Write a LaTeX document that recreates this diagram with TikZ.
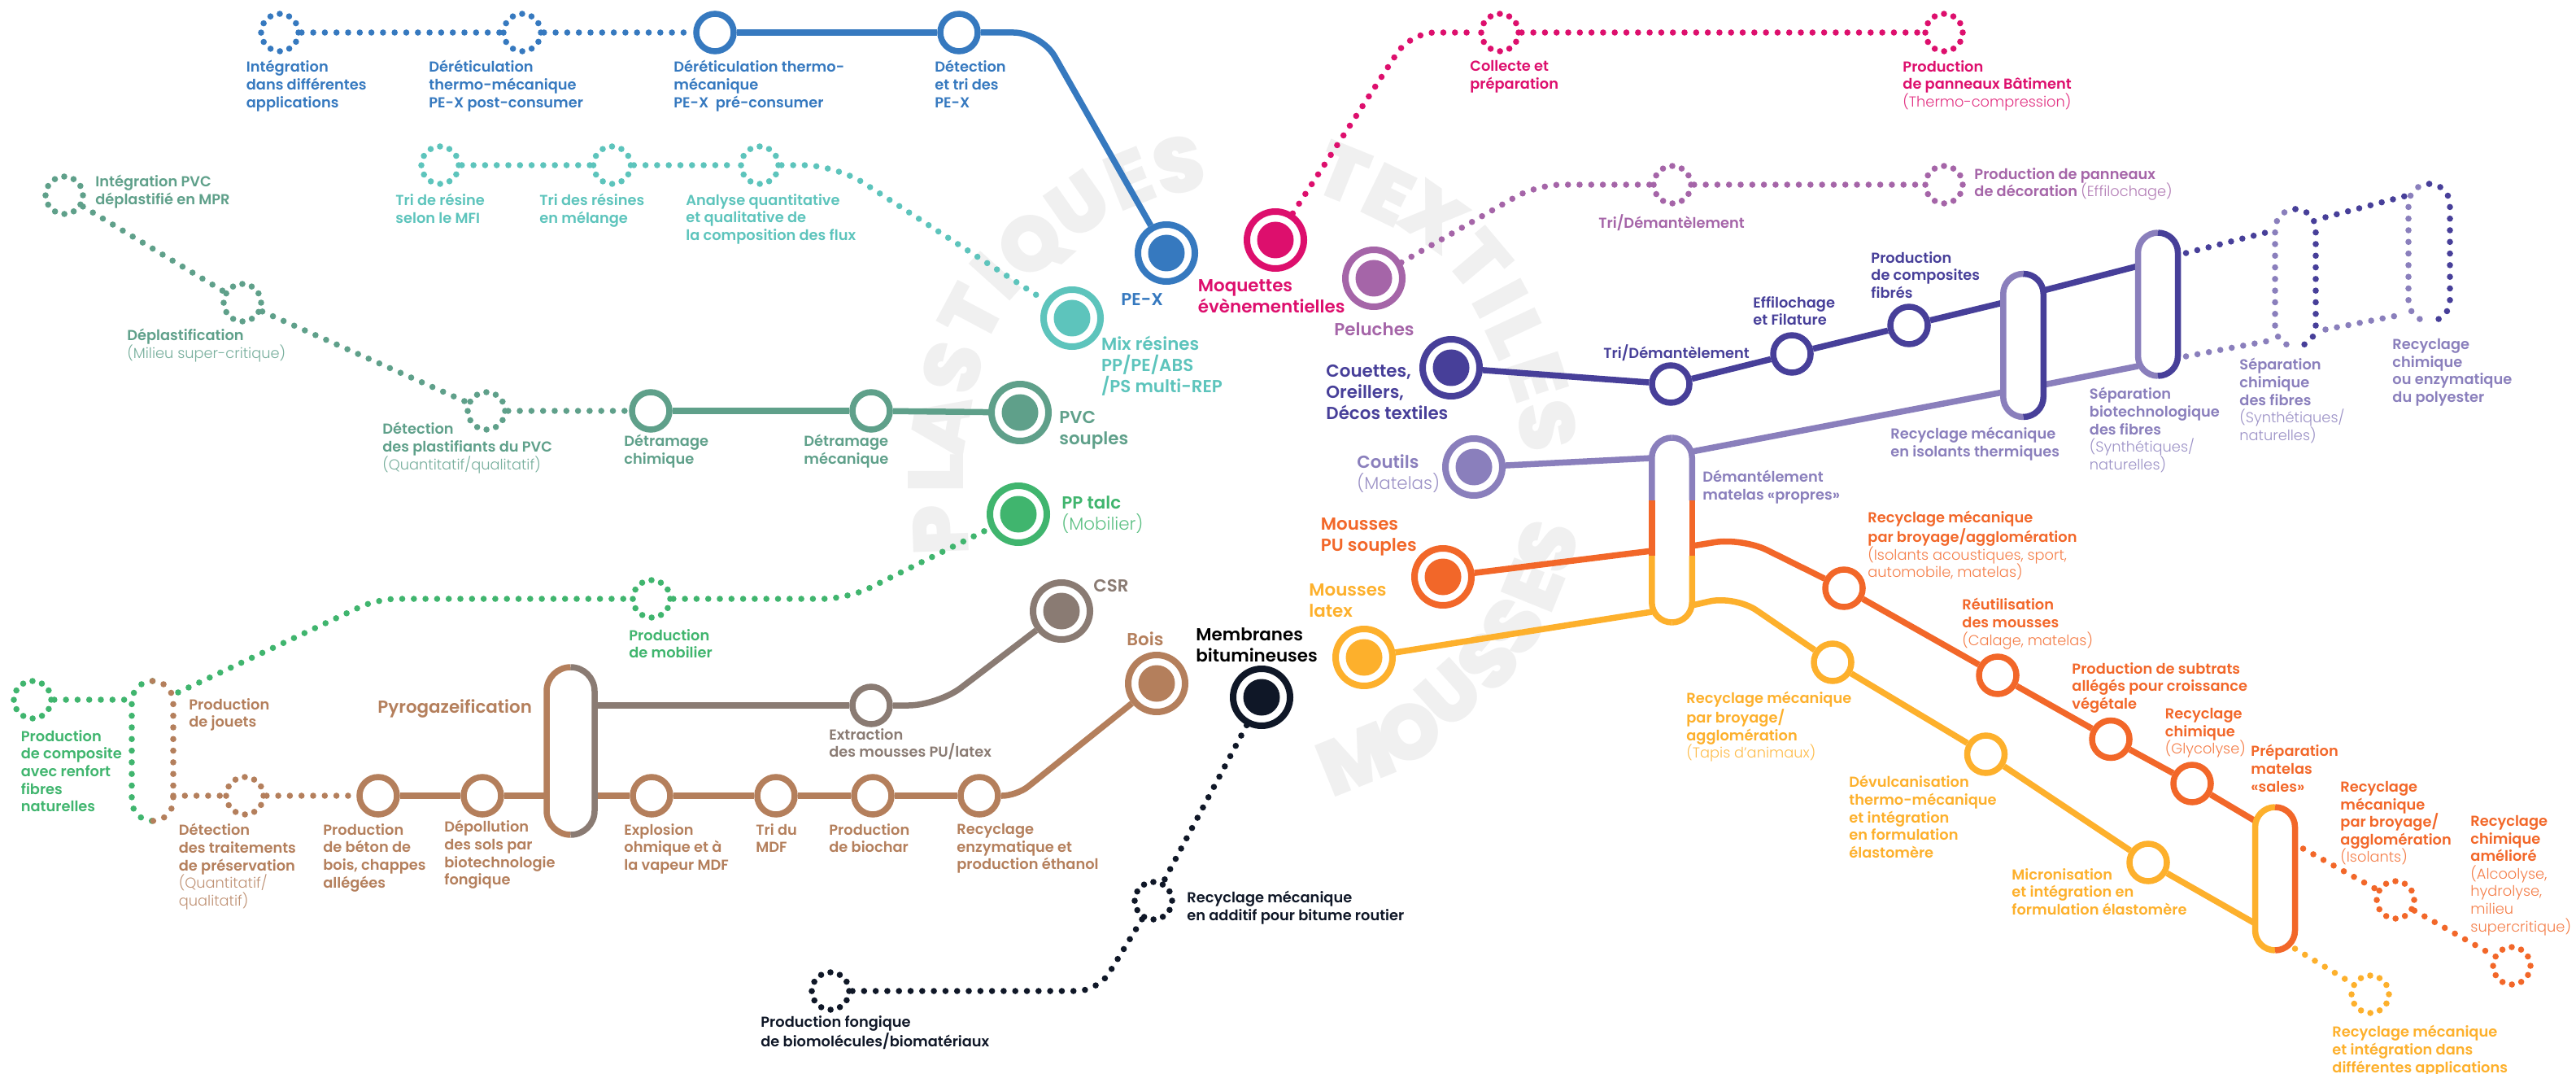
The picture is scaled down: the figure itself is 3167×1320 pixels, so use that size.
\documentclass[tikz,border=0pt]{standalone}
\usepackage{fontspec}
\setmainfont{Poppins}[BoldFont={Poppins SemiBold}]
\newfontfamily\lightface{Poppins Light}
\newfontfamily\markface{Poppins Black}
\definecolor{cPex}{HTML}{3679BF}
\definecolor{cMix}{HTML}{5DC4BC}
\definecolor{cPvc}{HTML}{5FA08A}
\definecolor{cTalc}{HTML}{40B56E}
\definecolor{cWood}{HTML}{B47F5C}
\definecolor{cCsr}{HTML}{8A7B73}
\definecolor{cBit}{HTML}{0F1727}
\definecolor{cCarpet}{HTML}{DD0F6D}
\definecolor{cPlush}{HTML}{A565A8}
\definecolor{cDuvet}{HTML}{473F99}
\definecolor{cTick}{HTML}{8A7FBC}
\definecolor{cFoam}{HTML}{F26729}
\definecolor{cLatex}{HTML}{FDB02C}
\newcommand{\thin}[1]{{\lightface\mdseries\color{.!85!white}#1}}
\tikzset{
    station/.style={circle, draw=#1, fill=white, line width=3.75pt, minimum size=23pt, inner sep=0pt},
    dotstation/.style={circle, draw=#1, line width=3.8pt, line cap=round, dash pattern=on 0pt off 6.02pt, minimum size=23pt, inner sep=0pt},
    terminus/.style={circle, draw=#1, fill=white, line width=4pt, minimum size=35pt, inner sep=0pt,
        path picture={\fill[#1] (path picture bounding box.center) circle (11.25pt);}},
    pillbox/.style={rectangle, fill=white, inner sep=0pt, outer sep=0pt},
    track/.style={draw=#1, line width=3.75pt},
    dottrack/.style={draw=#1, line width=3.8pt, line cap=round, dash pattern=on 0pt off 7.15pt},
    lbl/.style={text=#1, anchor=north west, inner sep=0pt, align=left, yshift=-1.5pt, font=\fontsize{8.9}{10.8}\selectfont\bfseries},
    biglbl/.style={text=#1, anchor=north west, inner sep=0pt, align=left, yshift=-3pt, font=\fontsize{10.7}{13}\selectfont\bfseries},
    wmark/.style={text=black!6, inner sep=0pt, font=\fontsize{48}{48}\markface}
}
\begin{document}
\begin{tikzpicture}[x=0.5pt, y=-0.5pt]
    \useasboundingbox (0,0) rectangle (3167,1320);

    % Watermark letters along the three arcs
    \foreach \ch/\wx/\wy/\wa [count=\i] in {P/1156/652/92, L/1150/581/90, A/1156/522/80, S/1171/452/75, T/1194/385/62, I/1224/339/48, Q/1270/304/42, U/1326/252/35, E/1388/220/22, S/1449/203/14,
        T/1651/213/-22, E/1707/240/-26, X/1763/267/-35, T/1819/320/-50, I/1845/367/-62, L/1865/410/-65, E/1890/463/-72, S/1902/523/-80,
        M/1667/933/22, O/1733/900/30, U/1783/853/42, S/1830/813/50, S/1860/770/58, E/1885/720/68, S/1902/672/75}
        \node[wmark, rotate=\wa] (mark\i) at (\wx,\wy) {\ch};

    % PE-X line
    \node[dotstation=cPex] (pexA) at (344,40) {};
    \node[dotstation=cPex] (pexB) at (642,40) {};
    \node[station=cPex] (pexC) at (879,40) {};
    \node[station=cPex] (pexD) at (1179,40) {};
    \node[terminus=cPex] (pexT) at (1434,311) {};
    \coordinate (pexBend) at (1280,40);
    \draw[dottrack=cPex] (pexA) -- (pexB);
    \draw[dottrack=cPex] (pexB) -- (pexC);
    \draw[track=cPex] (pexC) -- (pexD);
    \draw[track=cPex, rounded corners=17pt] (pexD) -- (pexBend) -- (pexT);
    \node[lbl=cPex] (pexAl) at (302.5,71) {Intégration\\dans différentes\\applications};
    \node[lbl=cPex] (pexBl) at (527,71) {Déréticulation\\thermo-mécanique\\PE-X post-consumer};
    \node[lbl=cPex] (pexCl) at (828,71) {Déréticulation thermo-\\mécanique\\PE-X~~pré-consumer};
    \node[lbl=cPex] (pexDl) at (1149,71) {Détection\\et tri des\\PE-X};
    \node[biglbl=cPex] (pexTl) at (1378,354) {PE-X};

    % Mix line
    \node[dotstation=cMix] (mixA) at (541,203) {};
    \node[dotstation=cMix] (mixB) at (752.5,203) {};
    \node[dotstation=cMix] (mixC) at (934,203) {};
    \node[terminus=cMix] (mixT) at (1318,391) {};
    \coordinate (mixBend) at (1028,203);
    \draw[dottrack=cMix] (mixA) -- (mixB);
    \draw[dottrack=cMix] (mixB) -- (mixC);
    \draw[dottrack=cMix, rounded corners=20pt] (mixC) -- (mixBend) -- (mixT);
    \node[lbl=cMix] (mixAl) at (486,235) {Tri de résine\\selon le MFI};
    \node[lbl=cMix] (mixBl) at (663,235) {Tri des résines\\en mélange};
    \node[lbl=cMix] (mixCl) at (843,235) {Analyse quantitative\\et qualitative de\\la composition des flux};
    \node[biglbl=cMix] (mixTl) at (1353.6,407) {Mix résines\\PP/PE/ABS\\/PS multi-REP};

    % PVC line
    \node[dotstation=cPvc] (pvcA) at (79,240) {};
    \node[dotstation=cPvc] (pvcB) at (298,372) {};
    \node[dotstation=cPvc] (pvcC) at (598,505) {};
    \node[station=cPvc] (pvcD) at (800,505) {};
    \node[station=cPvc] (pvcE) at (1071,505) {};
    \node[terminus=cPvc] (pvcT) at (1254,507) {};
    \draw[dottrack=cPvc] (pvcA) -- (pvcB);
    \draw[dottrack=cPvc] (pvcB) -- (pvcC);
    \draw[dottrack=cPvc] (pvcC) -- (pvcD);
    \draw[track=cPvc] (pvcD) -- (pvcE);
    \draw[track=cPvc] (pvcE) -- (pvcT);
    \node[lbl=cPvc] (pvcAl) at (117,212) {Intégration PVC\\déplastifié en MPR};
    \node[lbl=cPvc] (pvcBl) at (156,401) {Déplastification\\\thin{(Milieu super-critique)}};
    \node[lbl=cPvc] (pvcCl) at (470,516) {Détection\\des plastifiants du PVC\\\thin{(Quantitatif/qualitatif)}};
    \node[lbl=cPvc] (pvcDl) at (767,531) {Détramage\\chimique};
    \node[lbl=cPvc] (pvcEl) at (988,531) {Détramage\\mécanique};
    \node[biglbl=cPvc] (pvcTl) at (1302,499) {PVC\\souples};

    % Talc line and the two start points at the far left
    \node[dotstation=cTalc] (talcA) at (40,860) {};
    \node[pillbox, minimum width=25.5pt, minimum height=86pt] (jouets) at (187.5,923) {};
    \node[dotstation=cTalc] (talcB) at (801,736) {};
    \node[terminus=cTalc] (talcT) at (1252,632) {};
    \coordinate (talcBendA) at (464,736);
    \coordinate (talcBendB) at (1042,736);
    \draw[dottrack=cTalc] (talcA) -- ([yshift=31.5pt]jouets.west);
    \draw[dottrack=cTalc, rounded corners=12pt] ([xshift=3pt, yshift=36pt]jouets.east) -- (talcBendA) -- (talcB);
    \draw[dottrack=cTalc, rounded corners=15pt] (talcB) -- (talcBendB) -- (talcT);
    \node[lbl=cTalc] (talcAl) at (25.5,894) {Production\\de composite\\avec renfort\\fibres\\naturelles};
    \node[lbl=cTalc] (talcBl) at (773,770) {Production\\de mobilier};
    \node[biglbl=cTalc] (talcTl) at (1305,603) {PP talc\\\thin{(Mobilier)}};

    % Wood line
    \node[dotstation=cWood] (woodA) at (301,978) {};
    \node[station=cWood] (woodB) at (465,978) {};
    \node[station=cWood] (woodC) at (593,978) {};
    \node[pillbox, minimum width=29.5pt, minimum height=103pt] (pyro) at (701.5,923) {};
    \node[station=cWood] (woodD) at (801,978) {};
    \node[station=cWood] (woodE) at (954,978) {};
    \node[station=cWood] (woodF) at (1073,978) {};
    \node[station=cWood] (woodG) at (1204,978) {};
    \node[terminus=cWood] (woodT) at (1422,840) {};
    \coordinate (woodBend) at (1250,978);
    \draw[dottrack=cWood] ([yshift=-27.5pt]jouets.east) -- (woodA);
    \draw[dottrack=cWood] (woodA) -- (woodB);
    \draw[track=cWood] (woodB) -- (woodC);
    \draw[track=cWood] (woodC) -- ([yshift=-27.5pt]pyro.west);
    \draw[track=cWood] ([yshift=-27.5pt]pyro.east) -- (woodD);
    \draw[track=cWood] (woodD) -- (woodE);
    \draw[track=cWood] (woodE) -- (woodF);
    \draw[track=cWood] (woodF) -- (woodG);
    \draw[track=cWood, rounded corners=9pt] (woodG) -- (woodBend) -- (woodT);
    \node[lbl=cWood] (jouetsl) at (232,855) {Production\\de jouets};
    \node[lbl=cWood] (woodAl) at (219.5,1009) {Détection\\des traitements\\de préservation\\\thin{(Quantitatif/}\\\thin{qualitatif)}};
    \node[lbl=cWood] (woodBl) at (397,1009) {Production\\de béton de\\bois, chappes\\allégées};
    \node[lbl=cWood] (woodCl) at (546,1005) {Dépollution\\des sols par\\biotechnologie\\fongique};
    \node[biglbl=cWood] (pyrol) at (464,853) {Pyrogazeification};
    \node[lbl=cWood] (woodDl) at (767,1009) {Explosion\\ohmique et à\\la vapeur MDF};
    \node[lbl=cWood] (woodEl) at (929,1009) {Tri du\\MDF};
    \node[lbl=cWood] (woodFl) at (1019,1009) {Production\\de biochar};
    \node[lbl=cWood] (woodGl) at (1176,1009) {Recyclage\\enzymatique et\\production éthanol};
    \node[biglbl=cWood] (woodTl) at (1385,770) {Bois};

    % CSR line
    \node[station=cCsr] (csrA) at (1071,867) {};
    \node[terminus=cCsr] (csrT) at (1305,751) {};
    \coordinate (csrBend) at (1153,867);
    \draw[track=cCsr] ([yshift=28pt]pyro.east) -- (csrA);
    \draw[track=cCsr, rounded corners=18pt] (csrA) -- (csrBend) -- (csrT);
    \node[lbl=cCsr] (csrAl) at (1019,892) {Extraction\\des mousses PU/latex};
    \node[biglbl=cCsr] (csrTl) at (1344,706) {CSR};

    % Bitumen line
    \node[terminus=cBit] (bitT) at (1551,857) {};
    \node[dotstation=cBit] (bitA) at (1418,1107) {};
    \node[dotstation=cBit] (bitB) at (1021,1218) {};
    \coordinate (bitBend) at (1350,1218);
    \draw[dottrack=cBit] (bitT) -- (bitA);
    \draw[dottrack=cBit, rounded corners=13pt] (bitA) -- (bitBend) -- (bitB);
    \node[biglbl=black] (bitTl) at (1470,765) {Membranes\\bitumineuses};
    \node[lbl=cBit] (bitAl) at (1459,1092) {Recyclage mécanique\\en additif pour bitume routier};
    \node[lbl=cBit] (bitBl) at (935,1245) {Production fongique\\de biomolécules/biomatériaux};

    % Carpet line
    \node[terminus=cCarpet] (carpT) at (1568,295) {};
    \node[dotstation=cCarpet] (carpA) at (1844,40) {};
    \node[dotstation=cCarpet] (carpB) at (2390,40) {};
    \coordinate (carpBend) at (1734,40);
    \draw[dottrack=cCarpet, rounded corners=15pt] (carpT) -- (carpBend) -- (carpA);
    \draw[dottrack=cCarpet] (carpA) -- (carpB);
    \node[biglbl=cCarpet] (carpTl) at (1472.5,337) {Moquettes\\évènementielles};
    \node[lbl=cCarpet] (carpAl) at (1807,71) {Collecte et\\préparation};
    \node[lbl=cCarpet] (carpBl) at (2339,71) {Production\\de panneaux Bâtiment\\\thin{(Thermo-compression)}};

    % Plush line
    \node[terminus=cPlush] (plushT) at (1689,342) {};
    \node[dotstation=cPlush] (plushA) at (2056,227) {};
    \node[dotstation=cPlush] (plushB) at (2390,227) {};
    \coordinate (plushBend) at (1889.5,227);
    \draw[dottrack=cPlush, rounded corners=15pt] (plushT) -- (plushBend) -- (plushA);
    \draw[dottrack=cPlush] (plushA) -- (plushB);
    \node[biglbl=cPlush] (plushTl) at (1640,390) {Peluches};
    \node[lbl=cPlush] (plushAl) at (1965,260) {Tri/Démantèlement};
    \node[lbl=cPlush] (plushBl) at (2427,203) {Production de panneaux\\de décoration \thin{(Effilochage)}};

    % Pills shared by the textile and foam lines
    \node[pillbox, minimum width=24.75pt, minimum height=88pt] (thermal) at (2487.5,424.5) {};
    \node[pillbox, minimum width=24.5pt, minimum height=88pt] (biotech) at (2653,374) {};
    \node[pillbox, minimum width=25pt, minimum height=84.5pt] (sepchim) at (2822,341.5) {};
    \node[pillbox, minimum width=25.5pt, minimum height=84.5pt] (polyest) at (2986.5,310.5) {};
    \node[pillbox, minimum width=24.75pt, minimum height=113.5pt] (matelas) at (2055.5,651.5) {};
    \node[pillbox, minimum width=24.5pt, minimum height=88pt] (sales) at (2797,1080) {};

    % Duvet line
    \node[terminus=cDuvet] (duvT) at (1784,452) {};
    \node[station=cDuvet] (duvA) at (2054,472) {};
    \node[station=cDuvet] (duvB) at (2203,435) {};
    \node[station=cDuvet] (duvC) at (2347,400) {};
    \draw[track=cDuvet] (duvT) -- (duvA);
    \draw[track=cDuvet] (duvA) -- (duvB);
    \draw[track=cDuvet] (duvB) -- (duvC);
    \draw[track=cDuvet] (duvC) -- ([yshift=26.25pt]thermal.west);
    \draw[track=cDuvet] ([yshift=33.75pt]thermal.east) -- ([yshift=23.5pt]biotech.west);
    \draw[dottrack=cDuvet] ([xshift=5pt, yshift=31.5pt]biotech.east) -- ([xshift=-4pt, yshift=28.25pt]sepchim.west);
    \draw[dottrack=cDuvet] ([xshift=6pt, yshift=37.25pt]sepchim.east) -- ([xshift=-2pt, yshift=34.75pt]polyest.west);
    \node[biglbl=cDuvet] (duvTl) at (1630,442) {Couettes,\\Oreillers,\\Décos textiles};
    \node[lbl=cDuvet] (duvAl) at (1971,420) {Tri/Démantèlement};
    \node[lbl=cDuvet] (duvBl) at (2155,361) {Effilochage\\et Filature};
    \node[lbl=cDuvet] (duvCl) at (2300,306) {Production\\de composites\\fibrés};

    % Ticking line
    \node[terminus=cTick] (tickT) at (1812,574) {};
    \draw[track=cTick] (tickT) -- ([yshift=44.25pt]matelas.west);
    \draw[track=cTick] ([yshift=48.25pt]matelas.east) -- ([yshift=-28.75pt]thermal.west);
    \draw[track=cTick] ([yshift=-24.25pt]thermal.east) -- ([yshift=-38pt]biotech.west);
    \draw[dottrack=cTick] ([xshift=5pt, yshift=-32pt]biotech.east) -- ([xshift=-4pt, yshift=-38.75pt]sepchim.west);
    \draw[dottrack=cTick] ([xshift=6pt, yshift=-31.75pt]sepchim.east) -- ([xshift=-2pt, yshift=-37.75pt]polyest.west);
    \node[biglbl=cTick] (tickTl) at (1668,552) {Coutils\\\thin{(Matelas)}};
    \node[lbl=cTick] (matelasl) at (2093,575) {Démantélement\\matelas «propres»};
    \node[lbl=cTick] (thermall) at (2324,522) {Recyclage mécanique\\en isolants thermiques};
    \node[lbl=cTick] (biotechl) at (2568.5,473) {Séparation\\biotechnologique\\des fibres\\\thin{(Synthétiques/}\\\thin{naturelles)}};
    \node[lbl=cTick] (sepchiml) at (2753,437) {Séparation\\chimique\\des fibres\\\thin{(Synthétiques/}\\\thin{naturelles)}};
    \node[lbl=cTick] (polyestl) at (2941,413) {Recyclage\\chimique\\ou enzymatique\\du polyester};

    % PU foam line
    \node[terminus=cFoam] (foamT) at (1774,709) {};
    \node[station=cFoam] (foamA) at (2267,723) {};
    \node[station=cFoam] (foamB) at (2456,830) {};
    \node[station=cFoam] (foamC) at (2595,908.5) {};
    \node[station=cFoam] (foamD) at (2695,963) {};
    \node[dotstation=cFoam] (foamE) at (2945,1106) {};
    \node[dotstation=cFoam] (foamF) at (3088,1187) {};
    \coordinate (foamBend) at (2142,661);
    \draw[track=cFoam] (foamT) -- ([yshift=-12.75pt]matelas.west);
    \draw[track=cFoam, rounded corners=17pt] ([yshift=-9.75pt]matelas.east) -- (foamBend) -- (foamA);
    \draw[track=cFoam] (foamA) -- (foamB);
    \draw[track=cFoam] (foamB) -- (foamC);
    \draw[track=cFoam] (foamC) -- (foamD);
    \draw[track=cFoam] (foamD) -- ([yshift=35.5pt]sales.west);
    \draw[dottrack=cFoam] ([xshift=5pt, yshift=18.5pt]sales.east) -- (foamE);
    \draw[dottrack=cFoam] (foamE) -- (foamF);
    \node[biglbl=cFoam] (foamTl) at (1623.5,630) {Mousses\\PU souples};
    \node[lbl=cFoam] (foamAl) at (2296,625) {Recyclage mécanique\\par broyage/agglomération\\\thin{(Isolants acoustiques, sport,}\\\thin{automobile, matelas)}};
    \node[lbl=cFoam] (foamBl) at (2412,732) {Réutilisation\\des mousses\\\thin{(Calage, matelas)}};
    \node[lbl=cFoam] (foamCl) at (2547,811) {Production de subtrats\\allégés pour croissance\\végétale};
    \node[lbl=cFoam] (foamDl) at (2661.5,867) {Recyclage\\chimique\\\thin{(Glycolyse)}};
    \node[lbl=cFoam] (salesl) at (2767,912) {Préparation\\matelas\\«sales»};
    \node[lbl=cFoam] (foamEl) at (2877,957) {Recyclage\\mécanique\\par broyage/\\agglomération\\\thin{(Isolants)}};
    \node[lbl=cFoam] (foamFl) at (3037,999) {Recyclage\\chimique\\amélioré\\\thin{(Alcoolyse,}\\\thin{hydrolyse,}\\\thin{milieu}\\\thin{supercritique)}};

    % Latex line
    \node[terminus=cLatex] (latT) at (1677,808) {};
    \node[station=cLatex] (latA) at (2253,814) {};
    \node[station=cLatex] (latB) at (2441.5,927) {};
    \node[station=cLatex] (latC) at (2641,1060) {};
    \node[dotstation=cLatex] (latD) at (2914,1222) {};
    \coordinate (latBend) at (2133,732);
    \draw[track=cLatex] (latT) -- ([yshift=-50.25pt]matelas.west);
    \draw[track=cLatex, rounded corners=16pt] ([yshift=-46.25pt]matelas.east) -- (latBend) -- (latA);
    \draw[track=cLatex] (latA) -- (latB);
    \draw[track=cLatex] (latB) -- (latC);
    \draw[track=cLatex] (latC) -- ([yshift=-27.5pt]sales.west);
    \draw[dottrack=cLatex] ([yshift=-43pt]sales.east) -- (latD);
    \node[biglbl=cLatex] (latTl) at (1609,711) {Mousses\\latex};
    \node[lbl=cLatex] (latAl) at (2073,847) {Recyclage mécanique\\par broyage/\\agglomération\\\thin{(Tapis d’animaux)}};
    \node[lbl=cLatex] (latBl) at (2273,950) {Dévulcanisation\\thermo-mécanique\\et intégration\\en formulation\\élastomère};
    \node[lbl=cLatex] (latCl) at (2473,1064) {Micronisation\\et intégration en\\formulation élastomère};
    \node[lbl=cLatex] (latDl) at (2867,1257) {Recyclage mécanique\\et intégration dans\\différentes applications};

    % Pill outlines go last so that they cover the line ends
    \foreach \p/\cleft/\cright/\rad in {pyro/cWood/cCsr/14.75pt, thermal/cTick/cDuvet/12.37pt, biotech/cTick/cDuvet/12.25pt, sales/cLatex/cFoam/12.25pt} {
        \draw[track=\cleft, rounded corners=\rad] (\p.north) -| (\p.west) |- (\p.south);
        \draw[track=\cright, rounded corners=\rad] (\p.north) -| (\p.east) |- (\p.south);
    }
    \foreach \p/\cleft/\cright/\rad in {jouets/cTalc/cWood/12.75pt, sepchim/cTick/cDuvet/12.5pt, polyest/cTick/cDuvet/12.75pt} {
        \draw[dottrack=\cleft, rounded corners=\rad] (\p.north) -| (\p.west) |- (\p.south);
        \draw[dottrack=\cright, rounded corners=\rad] (\p.north) -| (\p.east) |- (\p.south);
    }
    % Matelas pill changes colour on both sides
    \coordinate (matA) at (2055.5,615);
    \coordinate (matB) at (2055.5,683);
    \draw[track=cTick, rounded corners=12.37pt] (matelas.west |- matA) |- (matelas.north);
    \draw[track=cTick, rounded corners=12.37pt] (matelas.east |- matA) |- (matelas.north);
    \draw[track=cFoam] (matelas.west |- matA) -- (matelas.west |- matB);
    \draw[track=cFoam] (matelas.east |- matA) -- (matelas.east |- matB);
    \draw[track=cLatex, rounded corners=12.37pt] (matelas.west |- matB) |- (matelas.south);
    \draw[track=cLatex, rounded corners=12.37pt] (matelas.east |- matB) |- (matelas.south);
\end{tikzpicture}
\end{document}
